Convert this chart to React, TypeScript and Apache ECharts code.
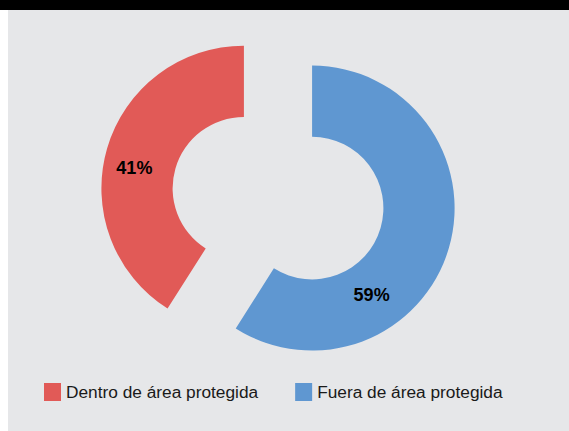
import React, { useEffect, useRef } from "react";
import * as echarts from "echarts";

const categories = ["Dentro de área protegida", "Fuera de área protegida"];
const values = [41, 59];
const colors = ["#E15A57", "#5F97D1"];
const labelShift = [
  [-4, 10],
  [-46, 56],
];

export default function App() {
  const ref = useRef<HTMLDivElement>(null);
  useEffect(() => {
    if (!ref.current) return;
    const chart = echarts.init(ref.current, undefined, { renderer: "svg" });
    chart.setOption({
      animation: false,
      backgroundColor: "#E6E7E9",
      legend: {
        data: categories,
        left: 31,
        top: 368,
        icon: "rect",
        itemWidth: 17,
        itemHeight: 18,
        itemGap: 37,
        selectedMode: false,
        textStyle: { fontSize: 17.3, color: "#1a1a1a", fontFamily: "Liberation Sans, Arial, sans-serif" },
      },
      series: [
        {
          type: "pie",
          center: [270, 188.2],
          radius: [71.3, 142.5],
          startAngle: 90,
          clockwise: false,
          selectedMode: "multiple",
          selectedOffset: 35.5,
          emphasis: { disabled: true },
          labelLine: { show: false },
          labelLayout: (params: any) => ({
            dx: labelShift[params.dataIndex][0],
            dy: labelShift[params.dataIndex][1],
          }),
          data: categories.map((name, i) => ({
            name,
            value: values[i],
            selected: true,
            itemStyle: { color: colors[i] },
          })),
          label: {
            show: true,
            position: "inside",
            formatter: "{c}%",
            fontSize: 18,
            fontWeight: "bold",
            color: "#000",
            fontFamily: "Liberation Sans, Arial, sans-serif",
          },
        },
      ],
    });
    return () => chart.dispose();
  }, []);
  return (
    <div style={{ position: "fixed", left: 0, top: 0, width: 569, height: 431, background: "#fff" }}>
      <div style={{ position: "absolute", left: 0, top: 0, width: 569, height: 10, background: "#000" }} />
      <div ref={ref} style={{ position: "absolute", left: 8, top: 10, width: 561, height: 421 }} />
    </div>
  );
}
